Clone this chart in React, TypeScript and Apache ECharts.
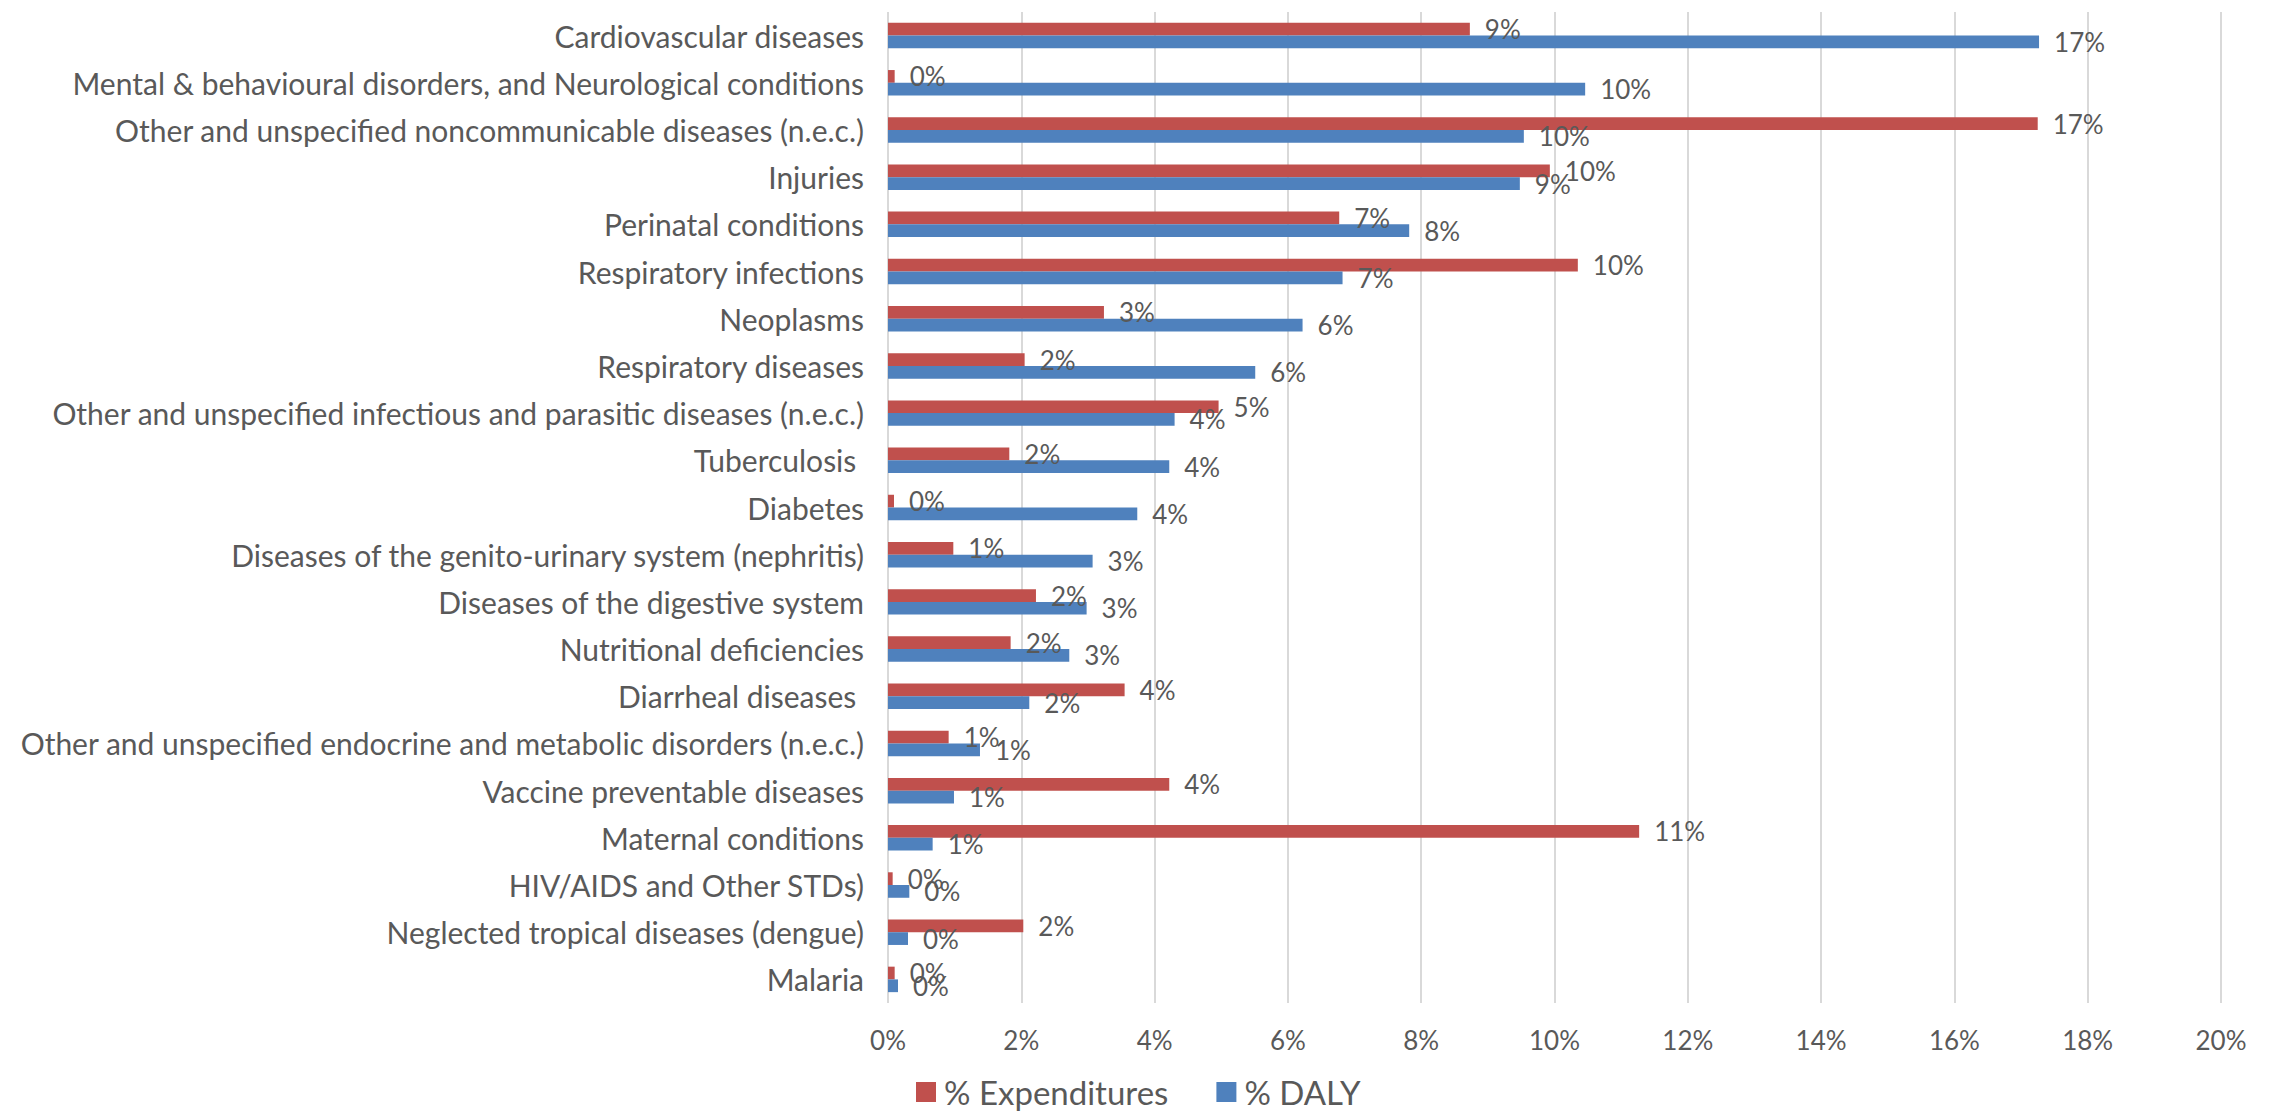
import React, { useEffect, useRef } from "react";
import * as echarts from "echarts";

// Disease categories, top to bottom
const categories: string[] = [
  "Cardiovascular diseases",
  "Mental & behavioural disorders, and Neurological conditions",
  "Other and unspecified noncommunicable diseases (n.e.c.)",
  "Injuries",
  "Perinatal conditions",
  "Respiratory infections",
  "Neoplasms",
  "Respiratory diseases",
  "Other and unspecified infectious and parasitic diseases (n.e.c.)",
  "Tuberculosis ",
  "Diabetes",
  "Diseases of the genito-urinary system (nephritis)",
  "Diseases of the digestive system",
  "Nutritional deficiencies",
  "Diarrheal diseases ",
  "Other and unspecified endocrine and metabolic disorders (n.e.c.)",
  "Vaccine preventable diseases",
  "Maternal conditions",
  "HIV/AIDS and Other STDs)",
  "Neglected tropical diseases (dengue)",
  "Malaria",
];

// Share of expenditures, in percent
const expenditures: number[] = [
  8.73, 0.1, 17.25, 9.93, 6.77, 10.35, 3.24, 2.05, 4.96, 1.82, 0.09, 0.98, 2.22,
  1.84, 3.55, 0.91, 4.22, 11.27, 0.07, 2.03, 0.1,
];

// Share of DALYs, in percent
const daly: number[] = [
  17.27, 10.46, 9.54, 9.48, 7.82, 6.82, 6.22, 5.51, 4.3, 4.22, 3.74, 3.07, 2.98,
  2.72, 2.12, 1.38, 0.99, 0.67, 0.32, 0.3, 0.15,
];

const seriesNames: string[] = ["% Expenditures", "% DALY"];

const FONT = "Lato";
const TEXT = "#595959";
const RED = "#C0504D";
const BLUE = "#4F81BD";

export default function App() {
  const ref = useRef<HTMLDivElement>(null);

  useEffect(() => {
    if (!ref.current) return;
    const chart = echarts.init(ref.current, undefined, { renderer: "svg" });

    const label = {
      show: true,
      position: "right" as const,
      distance: 15,
      color: TEXT,
      fontFamily: FONT,
      fontSize: 26,
      formatter: (p: any) => `${Math.round(p.value)}%`,
    };

    chart.setOption({
      animation: false,
      backgroundColor: "#ffffff",
      grid: { left: 888, right: 48, top: 12, bottom: 111, containLabel: false },
      legend: {
        data: seriesNames,
        top: 1075,
        left: 916,
        padding: 0,
        itemWidth: 20,
        itemHeight: 20,
        itemGap: 48,
        icon: "rect",
        textStyle: {
          color: TEXT,
          fontFamily: FONT,
          fontSize: 33,
          lineHeight: 34,
          padding: [0, 0, 0, 3],
        },
      },
      xAxis: {
        type: "value",
        min: 0,
        max: 20,
        interval: 2,
        axisLine: { show: false },
        axisTick: { show: false },
        axisLabel: {
          color: TEXT,
          fontFamily: FONT,
          fontSize: 26,
          margin: 24,
          formatter: (v: number) => `${v}%`,
        },
        splitLine: { show: true, lineStyle: { color: "#D9D9D9", width: 2 } },
      },
      yAxis: {
        type: "category",
        data: categories,
        inverse: true,
        axisLine: { show: false },
        axisTick: { show: false },
        axisLabel: {
          color: TEXT,
          fontFamily: FONT,
          fontSize: 30,
          margin: 24,
        },
        splitLine: { show: false },
      },
      series: [
        {
          name: seriesNames[0],
          type: "bar",
          data: expenditures,
          itemStyle: { color: RED },
          barGap: "0%",
          barCategoryGap: "46%",
          label,
        },
        {
          name: seriesNames[1],
          type: "bar",
          data: daly,
          itemStyle: { color: BLUE },
          barGap: "0%",
          barCategoryGap: "46%",
          label,
        },
      ],
    });

    return () => chart.dispose();
  }, []);

  return (
    <div
      ref={ref}
      style={{ position: "fixed", left: 0, top: 0, width: 2269, height: 1114 }}
    />
  );
}
